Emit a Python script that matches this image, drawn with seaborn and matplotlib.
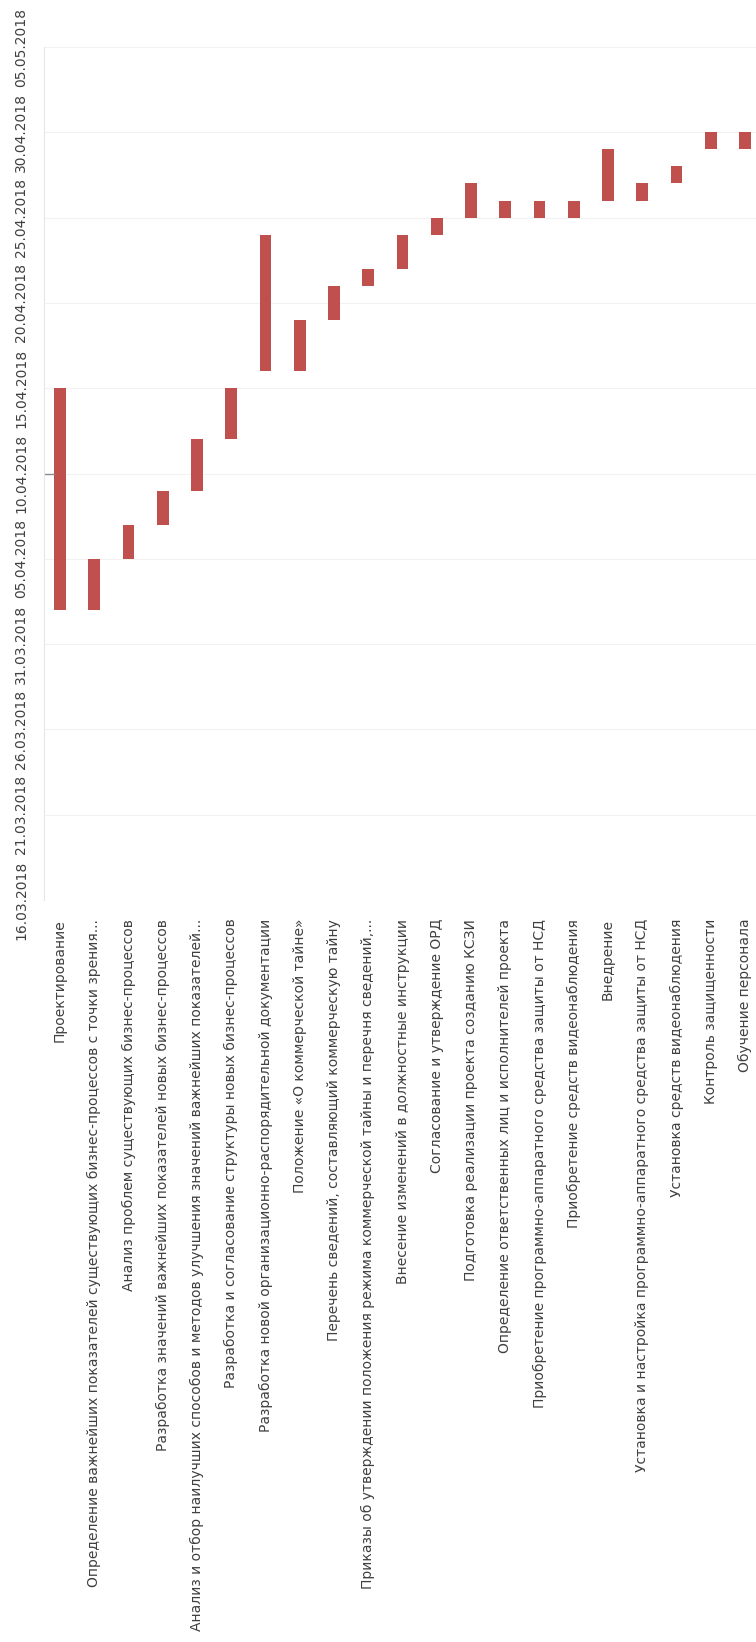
import matplotlib
matplotlib.use("Agg")
import matplotlib.pyplot as plt
import matplotlib.dates as mdates
import seaborn as sns
import pandas as pd
import numpy as np

tasks = [
    "Проектирование",
    "Определение важнейших показателей существующих бизнес-процессов с точки зрения...",
    "Анализ проблем существующих бизнес-процессов",
    "Разработка значений важнейших показателей новых бизнес-процессов",
    "Анализ и отбор наилучших способов и методов улучшения значений важнейших показателей...",
    "Разработка и согласование структуры новых бизнес-процессов",
    "Разработка новой организационно-распорядительной документации",
    "Положение «О коммерческой тайне»",
    "Перечень сведений, составляющий коммерческую тайну",
    "Приказы об утверждении положения режима коммерческой тайны и перечня сведений,...",
    "Внесение изменений в должностные инструкции",
    "Согласование и утверждение ОРД",
    "Подготовка реализации проекта созданию КСЗИ",
    "Определение ответственных лиц и исполнителей проекта",
    "Приобретение программно-аппаратного средства защиты от НСД",
    "Приобретение средств видеонаблюдения",
    "Внедрение",
    "Установка и настройка программно-аппаратного средства защиты от НСД",
    "Установка средств видеонаблюдения",
    "Контроль защищенности",
    "Обучение персонала",
]
start_dates = [
    "2018-04-02", "2018-04-02", "2018-04-05", "2018-04-07", "2018-04-09",
    "2018-04-12", "2018-04-16", "2018-04-16", "2018-04-19", "2018-04-21",
    "2018-04-22", "2018-04-24", "2018-04-25", "2018-04-25", "2018-04-25",
    "2018-04-25", "2018-04-26", "2018-04-26", "2018-04-27", "2018-04-29",
    "2018-04-29",
]
end_dates = [
    "2018-04-15", "2018-04-05", "2018-04-07", "2018-04-09", "2018-04-12",
    "2018-04-15", "2018-04-24", "2018-04-19", "2018-04-21", "2018-04-22",
    "2018-04-24", "2018-04-25", "2018-04-27", "2018-04-26", "2018-04-26",
    "2018-04-26", "2018-04-29", "2018-04-27", "2018-04-28", "2018-04-30",
    "2018-04-30",
]
axis_start = "2018-03-16"
axis_end = "2018-05-05"
tick_step_days = 5
marker_date = "2018-04-10"

start_num = mdates.date2num(pd.to_datetime(start_dates))
end_num = mdates.date2num(pd.to_datetime(end_dates))
df = pd.DataFrame({"task": tasks, "start": start_num, "dur": end_num - start_num})

sns.set_style("white")
plt.rcParams["font.family"] = ["DejaVu Sans"]

W, H = 756, 1642
fig = plt.figure(figsize=(W / 100, H / 100), dpi=100)
ax = fig.add_axes([44 / W, (H - 900) / H, 712 / W, (900 - 47) / H])

bar_color = "#C0504D"
sns.barplot(data=df, x="task", y="dur", bottom=df["start"].values, color=bar_color,
            saturation=1, width=0.336, errorbar=None, ax=ax, linewidth=0)

y0 = mdates.date2num(pd.Timestamp(axis_start))
y1 = mdates.date2num(pd.Timestamp(axis_end))
ax.set_ylim(y0, y1)
step = 34.25
left = -(60 - 44) / step
ax.set_xlim(left, left + 712 / step)

ticks = pd.date_range(axis_start, axis_end, freq=f"{tick_step_days}D")
ax.set_yticks(mdates.date2num(ticks))
ax.set_yticklabels([t.strftime("%d.%m.%Y") for t in ticks], rotation=90,
                   va="center", fontsize=10, color="#404040")
ax.yaxis.grid(True, color="#F2F2F2", linewidth=0.8)
ax.xaxis.grid(False)
ax.set_axisbelow(True)

ax.set_xticks(range(len(tasks)))
ax.set_xticklabels(tasks, rotation=90, ha="center", va="top", fontsize=10,
                   color="#404040")
ax.tick_params(axis="x", length=0, pad=13.5)
ax.tick_params(axis="y", length=0, pad=11.3)
ax.set_xlabel("")
ax.set_ylabel("")

for s in ["top", "right", "bottom"]:
    ax.spines[s].set_visible(False)
ax.spines["left"].set_color("#E6E6E6")
ax.spines["left"].set_linewidth(0.8)

md = mdates.date2num(pd.Timestamp(marker_date))
ax.axhline(md, xmin=0, xmax=10 / 712, color="#8C8C8C", linewidth=1.0)

fig.savefig("out.png", dpi=100, facecolor="white")
